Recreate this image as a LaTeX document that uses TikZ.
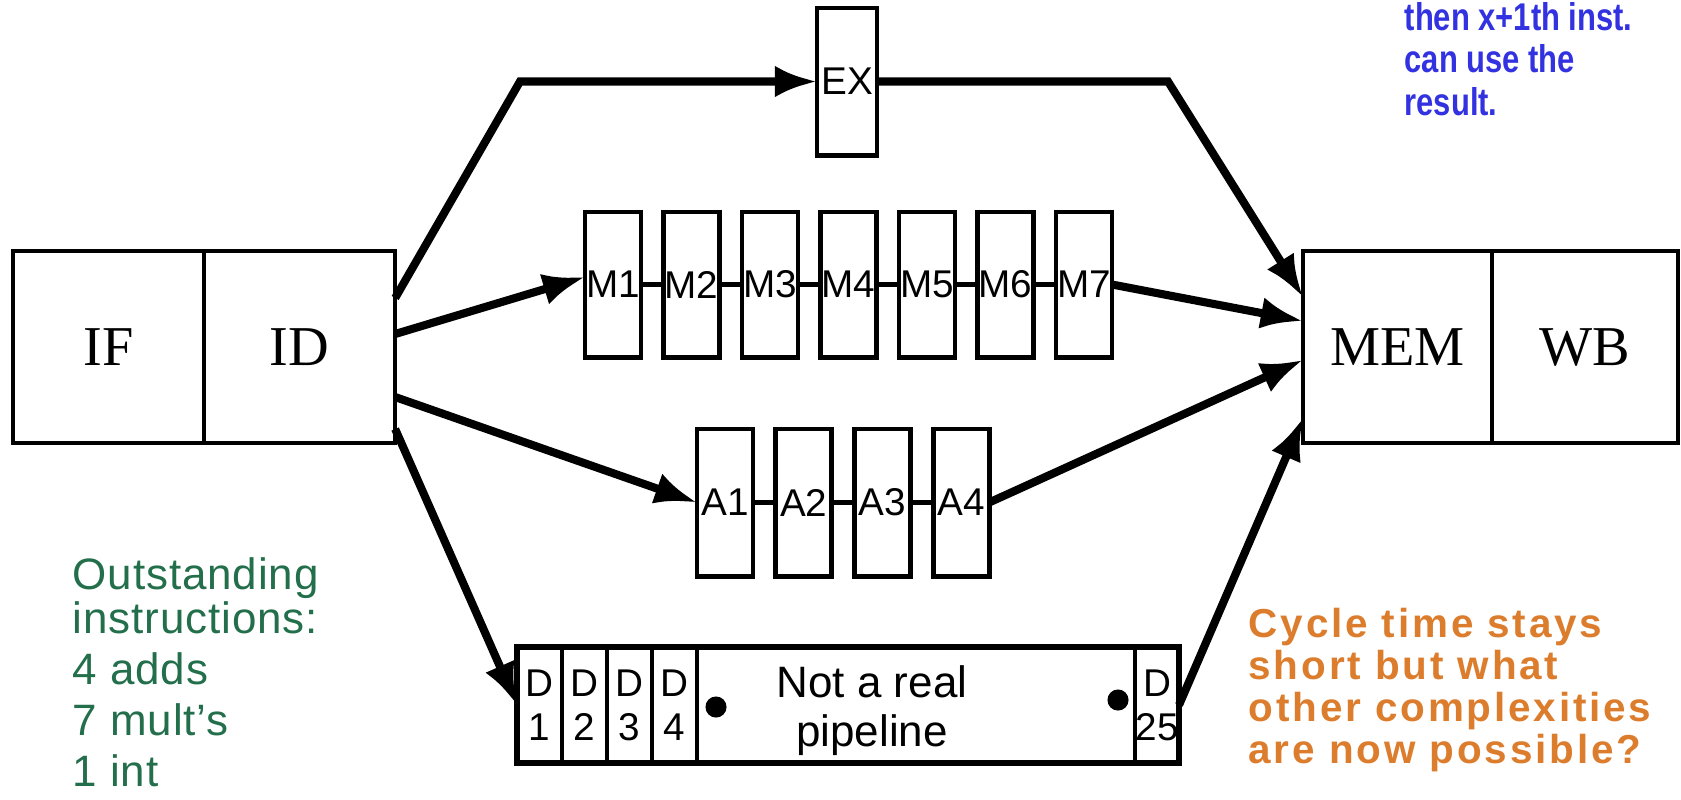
\documentclass[tikz,border=0pt]{standalone}
\usepackage{fontspec}
\setmainfont{Liberation Serif}
\setsansfont{Liberation Sans}
\newfontfamily\narrowsans[FakeStretch=0.8]{Liberation Sans}
\newfontfamily\widesans[LetterSpace=7]{Liberation Sans}
\newfontfamily\greensans[LetterSpace=2]{Liberation Sans}
\usetikzlibrary{arrows.meta,positioning}

\definecolor{noteblue}{RGB}{50,50,225}
\definecolor{notegreen}{RGB}{35,110,75}
\definecolor{noteorange}{RGB}{220,125,45}

\begin{document}
\begin{tikzpicture}[x=0.01cm,y=-0.01cm,
  stage/.style={draw,line width=1.1pt,outer sep=0pt,inner sep=0pt,
    minimum width=1.91cm,minimum height=1.92cm,font=\fontsize{16}{18}\selectfont},
  unit/.style={draw,line width=1.4pt,outer sep=0pt,inner sep=0pt,
    minimum width=0.56cm,minimum height=1.45cm,font=\sffamily\fontsize{11}{12}\selectfont},
  dcell/.style={draw,line width=1.3pt,outer sep=0pt,inner sep=0pt,align=center,
    minimum width=0.45cm,minimum height=1.16cm,font=\sffamily\fontsize{11}{12.5}\selectfont},
  flow/.style={line width=2.3pt,-{Latex[length=12pt,width=9pt]}},
  link/.style={line width=1.4pt},
  note/.style={anchor=north west,align=left,inner sep=0pt}]
\useasboundingbox (0,0) rectangle (1681,799);
% front and back of the pipe
\node[stage] (IF) at (108.5,347) {IF};
\node[stage,right=0pt of IF] (ID) {ID};
\node[stage,minimum width=1.89cm] (MEM) at (1397.5,347) {MEM};
\node[stage,minimum width=1.86cm,right=0pt of MEM] (WB) {WB};
% functional units
\node[unit,minimum width=0.6cm,minimum height=1.47cm] (EX) at (847,81.5) {EX};
\foreach \i in {1,...,7}
  \node[unit] (M\i) at ({613+78.5*(\i-1)},284.5) {M\i};
\foreach \i in {1,...,4}
  \node[unit,minimum height=1.47cm] (A\i) at ({725+78.7*(\i-1)},502.5) {A\i};
\foreach \i [count=\j from 2] in {1,...,6}
  \draw[link] (M\i) -- (M\j);
\foreach \i [count=\j from 2] in {1,...,3}
  \draw[link] (A\i) -- (A\j);
% divider
\foreach \i in {1,...,4}
  \node[dcell] (D\i) at ({539.5+45*(\i-1)},705) {D\\\i};
\node[dcell,minimum width=4.38cm] (Dmid) at (916,705) {};
\node[dcell,minimum width=0.44cm] (D25) at (1157,705) {D\\25};
\draw[line width=1.5pt] (D1.north west) rectangle (D25.south east);
\node[circle,fill,inner sep=0pt,minimum size=6pt] (dotL) at (716,707) {};
\node[circle,fill,inner sep=0pt,minimum size=6pt] (dotR) at (1118,700) {};
\node[font=\sffamily\fontsize{12.5}{14}\selectfont,align=center] (fake) at (872,711) {Not a real\\pipeline};
% issue paths
\draw[flow] ([yshift=-0.47cm]ID.north east) -- (520,81.5) -- (EX.west);
\draw[flow] (EX.east) -- (1168,81.5) -- ([yshift=-0.46cm]MEM.north west);
\draw[flow] ([yshift=0.13cm]ID.east) -- ([yshift=0.075cm]M1.west);
\draw[flow] (M7.east) -- ([yshift=0.26cm]MEM.west);
\draw[flow] ([yshift=-0.5cm]ID.east) -- (A1.west);
\draw[flow] (A4.east) -- ([yshift=-0.13cm]MEM.west);
\draw[flow] ([yshift=-0.82cm]ID.east) -- (D1.west);
\draw[flow] (D25.east) -- ([yshift=-0.71cm]MEM.west);
% notes
\node[note,text=noteblue,font=\narrowsans\bfseries\fontsize{11}{12}\selectfont] (hint) at (1404,2)
  {then x+1th inst.\\can use the\\result.};
\node[note,text=notegreen,font=\greensans\fontsize{12.5}{12.5}\selectfont] (count) at (72,557)
  {Outstanding\\instructions:\\[2pt]4 adds\\[2pt]7 mult’s\\[2pt]1 int};
\node[note,text=noteorange,font=\widesans\bfseries\fontsize{11.5}{12}\selectfont] (question) at (1248,607)
  {Cycle time stays\\short but what\\other complexities\\are now possible?};
\end{tikzpicture}
\end{document}
